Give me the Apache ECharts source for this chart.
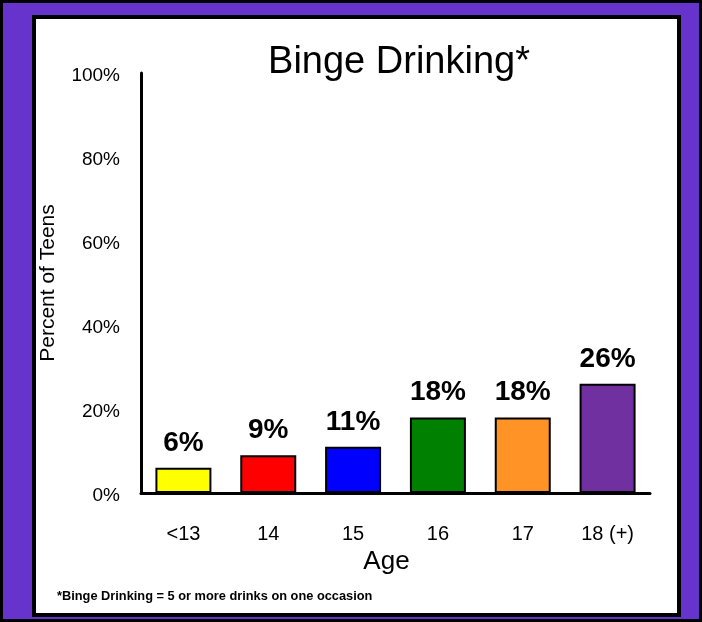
<!DOCTYPE html>
<html>
<head>
<meta charset="utf-8">
<script src="https://cdn.jsdelivr.net/npm/echarts@6/dist/echarts.min.js"></script>
<style>html,body{margin:0;padding:0;background:#fff}#c{width:702px;height:622px}</style>
</head>
<body>
<div id="c"></div>
<script>
const categories = ['<13', '14', '15', '16', '17', '18 (+)'];
const percentTeens = [6, 9, 11, 18, 18, 26];
const yTicks = [0, 20, 40, 60, 80, 100];
const barColors = ['#FFFF00', '#FF0000', '#0000FF', '#008000', '#FF9326', '#7030A0'];

const chart = echarts.init(document.getElementById('c'));
const FONT = '"Liberation Sans", Arial, sans-serif';
chart.setOption({
  backgroundColor: '#6633CC',
  animation: false,
  textStyle: { fontFamily: FONT },
  graphic: [
    { type: 'rect', z: -10, shape: { x: 1, y: 1, width: 700, height: 620 }, style: { fill: '#6633CC', stroke: '#000', lineWidth: 4 } },
    { type: 'rect', z: -9, shape: { x: 34, y: 17, width: 645, height: 598 }, style: { fill: '#fff', stroke: '#000', lineWidth: 4 } },
    { type: 'text', z: 5, left: 57, top: 590, style: { text: '*Binge Drinking = 5 or more drinks on one occasion', font: 'bold 12.8px ' + FONT, fill: '#000' } }
  ],
  title: {
    text: 'Binge Drinking*',
    left: 394, textAlign: 'center', top: 39,
    textStyle: { fontSize: 38, fontWeight: 'normal', color: '#000', fontFamily: FONT }
  },
  grid: { left: 141, right: 52, top: 73, bottom: 129, containLabel: false },
  xAxis: {
    type: 'category',
    data: categories,
    axisLine: { show: true, lineStyle: { color: '#000', width: 3 } },
    axisTick: { show: false },
    axisLabel: { color: '#000', fontSize: 20, margin: 31, fontFamily: FONT },
    name: 'Age', nameLocation: 'middle', nameGap: 56,
    nameTextStyle: { color: '#000', fontSize: 26, fontFamily: FONT, padding: [0, 18, 0, 0] }
  },
  yAxis: {
    type: 'value', min: yTicks[0], max: yTicks[yTicks.length - 1], interval: 20,
    axisLine: { show: true, lineStyle: { color: '#000', width: 3 } },
    axisTick: { show: false },
    splitLine: { show: false },
    axisLabel: { color: '#000', fontSize: 19, margin: 21, formatter: '{value}%', fontFamily: FONT, verticalAlign: 'top', padding: [-7, 0, 0, 0] },
    name: 'Percent of Teens', nameLocation: 'middle', nameGap: 82,
    nameTextStyle: { color: '#000', fontSize: 21, fontFamily: FONT }
  },
  series: [{
    type: 'bar',
    barCategoryGap: '34%',
    data: percentTeens.map((v, i) => ({ value: v, itemStyle: { color: barColors[i] } })),
    itemStyle: { borderColor: '#000', borderWidth: 2 },
    label: { show: true, position: 'top', distance: 11, formatter: '{c}%', color: '#000', fontSize: 28, fontWeight: 'bold', fontFamily: FONT }
  }]
});
</script>
</body>
</html>
